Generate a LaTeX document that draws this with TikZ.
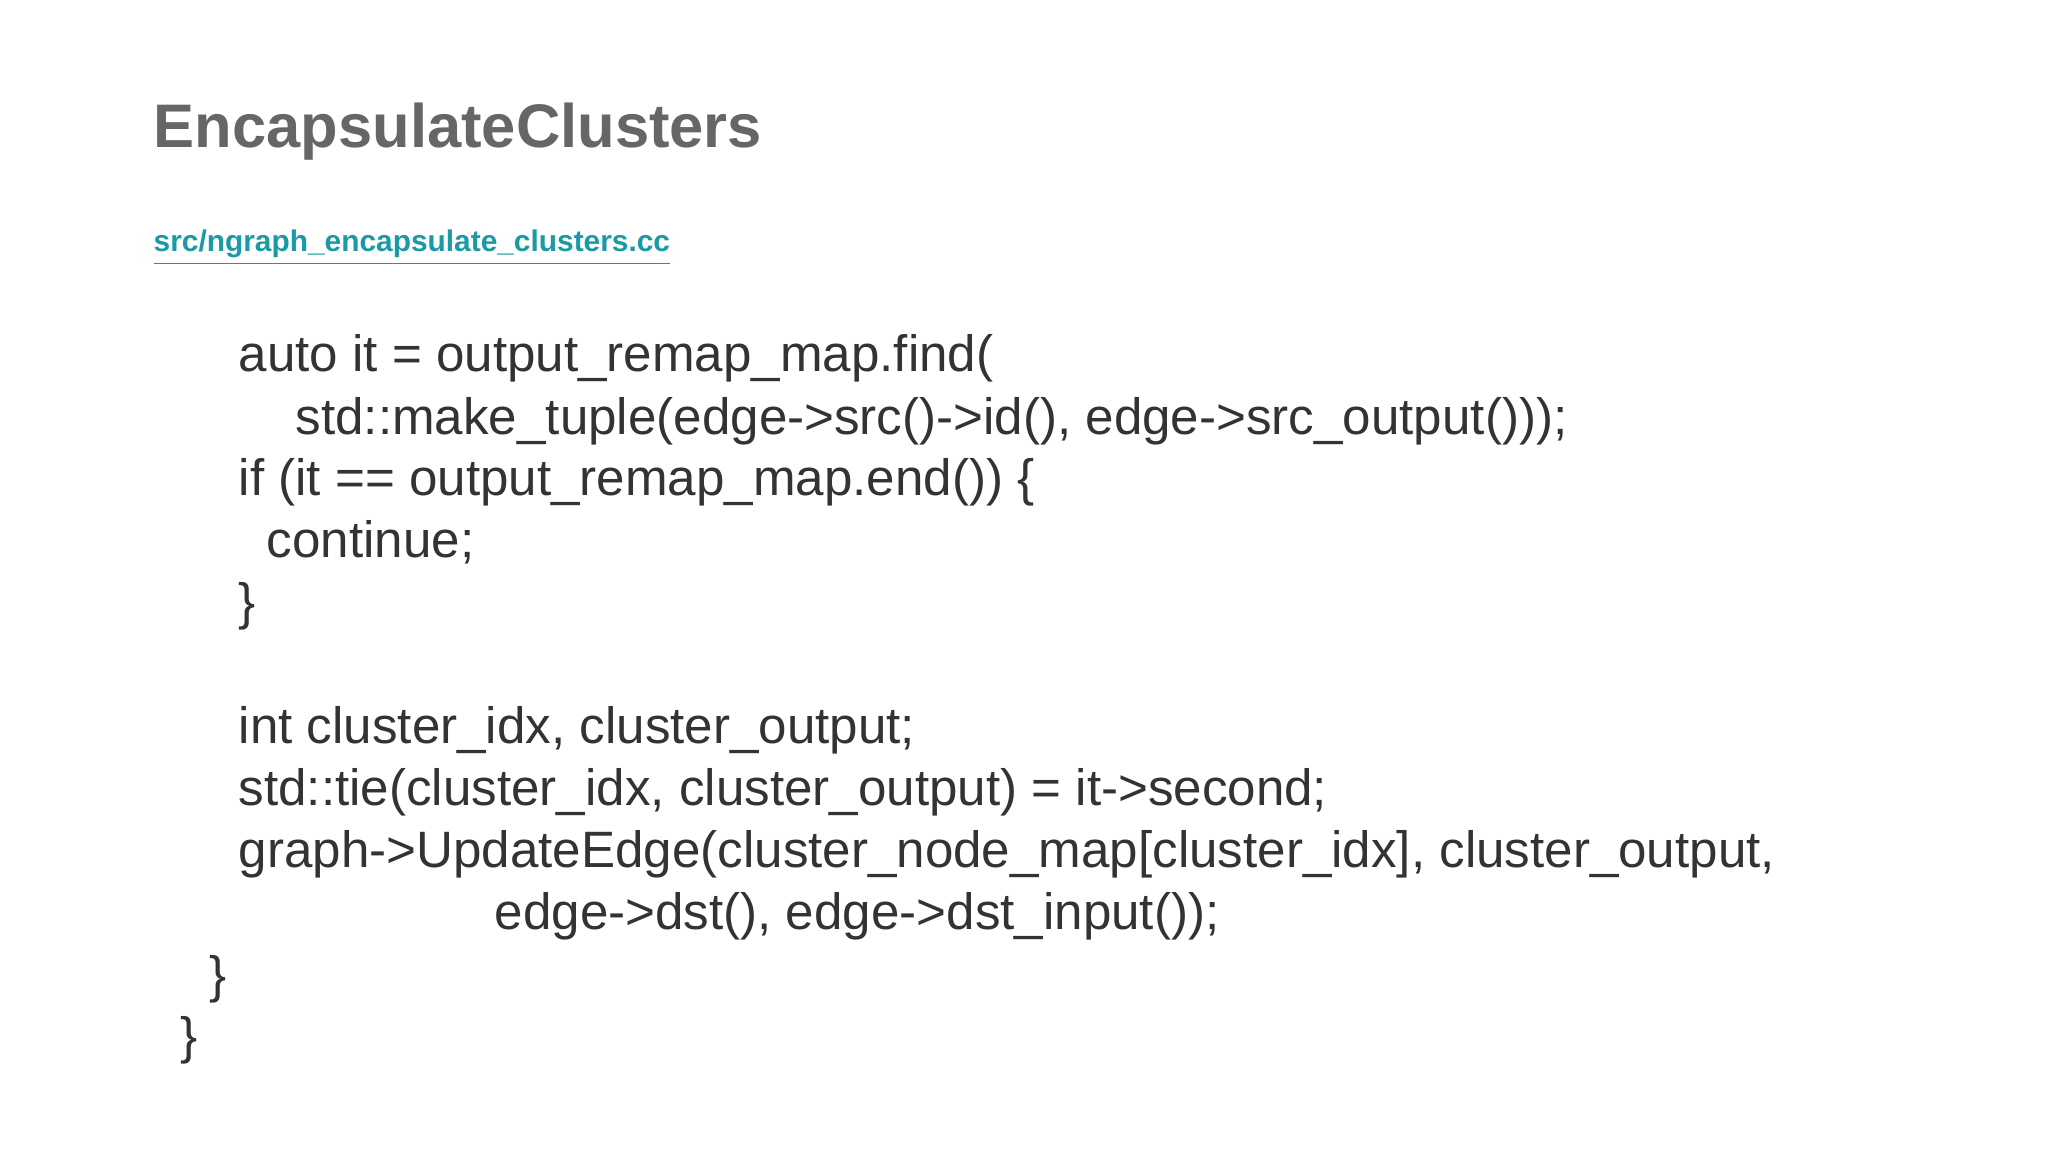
\documentclass[tikz,border=0pt]{standalone}
\usepackage{fontspec}
\setmainfont{Liberation Sans}
\usetikzlibrary{positioning}
\definecolor{titlegray}{HTML}{666666}
\definecolor{codegray}{HTML}{333333}
\definecolor{linkteal}{HTML}{1A9AA5}
\tikzset{
  title/.style={anchor=base west, inner sep=0pt, text=titlegray, font=\fontsize{17.5}{21}\selectfont\bfseries},
  link/.style={anchor=base west, inner sep=0pt, text=linkteal, font=\fontsize{8.5}{11}\selectfont\bfseries},
  code/.style={anchor=base west, inner sep=0pt, text=codegray, font=\fontsize{14.55}{18}\selectfont}
}
\begin{document}
\begin{tikzpicture}
  \useasboundingbox (0,0) rectangle (20.48,11.52);
  \node[title] (head) at (1.53,10.04) {EncapsulateClusters};
  \node[link] (src) at (1.53,9.00) {\underline{src/ngraph\_encapsulate\_clusters.cc}};
  \node[code] (l1) at (2.38,7.80) {auto it = output\_remap\_map.find(};
  \node[code] (l2) at (2.95,7.17) {std::make\_tuple(edge->src()->id(), edge->src\_output()));};
  \node[code] (l3) at (2.38,6.56) {if (it == output\_remap\_map.end()) \{};
  \node[code] (l4) at (2.66,5.94) {continue;};
  \node[code] (l5) at (2.38,5.32) {\}};
  \node[code] (l6) at (2.38,4.08) {int cluster\_idx, cluster\_output;};
  \node[code] (l7) at (2.38,3.46) {std::tie(cluster\_idx, cluster\_output) = it->second;};
  \node[code] (l8) at (2.38,2.84) {graph->UpdateEdge(cluster\_node\_map[cluster\_idx], cluster\_output,};
  \node[code] (l9) at (4.94,2.22) {edge->dst(), edge->dst\_input());};
  \node[code] (l10) at (2.09,1.59) {\}};
  \node[code] (l11) at (1.80,0.98) {\}};
\end{tikzpicture}
\end{document}
